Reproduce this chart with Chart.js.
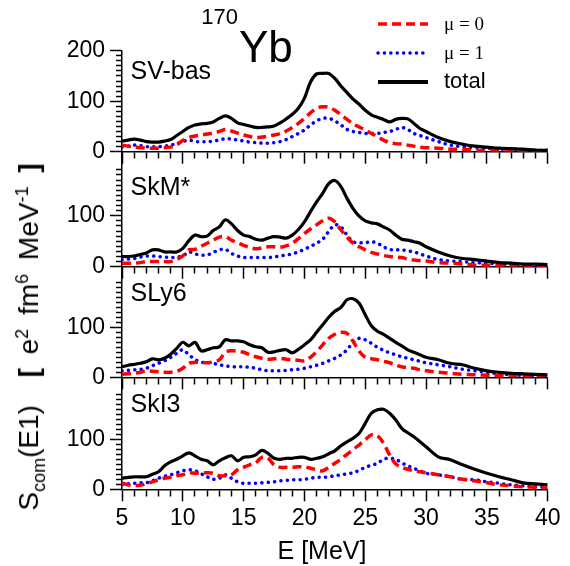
<!DOCTYPE html>
<html>
<head>
<meta charset="utf-8">
<script src="https://cdn.jsdelivr.net/npm/chart.js@4.4.0/dist/chart.umd.min.js"></script>
<style>
  body { margin: 0; background: #fff; }
  #wrap { position: relative; width: 570px; height: 566px; overflow: hidden; font-family: "Liberation Sans", Arial, sans-serif; }
  #wrap canvas { position: absolute; left: 0; top: 0; }
  .txt { position: absolute; white-space: nowrap; line-height: 1; color: #000; }
  .serif { font-family: "Liberation Serif", "Times New Roman", serif; }
  #ylab { position: absolute; left: 31px; top: 337px; transform: translate(-50%, -50%) rotate(-90deg); font-size: 28px; word-spacing: 6px; white-space: nowrap; }
  #ylab sub, #ylab sup { font-size: 18px; }
</style>
</head>
<body>
<div id="wrap">
  <canvas id="p0" width="570" height="566"></canvas>
  <canvas id="p1" width="570" height="566"></canvas>
  <canvas id="p2" width="570" height="566"></canvas>
  <canvas id="p3" width="570" height="566"></canvas>
  <div id="ylab">S<sub>com</sub>(E1)&nbsp; <b>[</b> e<sup>2</sup> fm<sup>6</sup> MeV<sup>-1</sup> <b>]</b></div>
</div>
<script>
// energy grid, MeV
const energy = [5,5.5,6,6.5,7,7.5,8,8.5,9,9.5, 10,10.5,11,11.5,12,12.5,13,13.5,14,14.5,
  15,15.5,16,16.5,17,17.5,18,18.5,19,19.5, 20,20.5,21,21.5,22,22.5,23,23.5,24,24.5,
  25,25.5,26,26.5,27,27.5,28,28.5,29,29.5, 30,31,32,33,34,35,36,37,38,39,40];

const panelNames = ["SV-bas", "SkM*", "SLy6", "SkI3"];
const seriesNames = ["\u03bc = 0", "\u03bc = 1", "total"];

// S_com(E1) in e^2 fm^6 / MeV
const totalSVbas = [21,23,25,23,20,19,19,21,24,32, 40,48,53,55,56,59,66,71,66,57, 54,51,48,48,49,51,57,65,74,86, 106,138,154,155,155,145,130,117,104,94, 82,73,68,64,59,64,66,65,56,46, 40,28,20,15,11,9,7,6,5,3,3];
const mu0SVbas = [13,11,9,8,7,7,7,8,9,14, 22,28,31,33,35,37,40,44,41,37, 33,30,28,29,31,33,36,41,48,56, 66,77,86,89,88,82,73,64,55,49, 43,36,30,23,18,16,15,13,11,9, 8,7,5,5,3,2,2,2,2,2,2];
const mu1SVbas = [9,11,13,12,10,10,10,11,13,16, 20,23,20,20,20,21,23,26,25,23, 21,19,18,17,17,18,20,24,30,36, 43,53,61,66,66,61,53,44,40,38, 36,36,36,38,40,44,48,44,36,32, 28,20,13,10,8,7,5,5,4,3,3];

const totalSkM = [20,20,21,24,27,33,33,29,29,29, 36,51,62,59,60,71,78,92,84,71, 62,59,54,52,56,59,58,56,62,73, 88,108,127,144,163,169,157,134,114,99, 90,86,84,78,72,62,54,52,49,46, 39,29,21,16,14,11,8,7,5,5,4];
const mu0SkM = [7,7,7,8,10,10,10,10,10,14, 21,33,34,40,46,52,58,59,52,47, 42,38,35,37,39,39,38,41,46,55, 65,74,82,90,95,88,72,58,46,39, 33,28,25,22,20,19,18,15,13,12, 11,8,7,5,3,3,2,2,2,2,2];
const mu1SkM = [14,15,16,19,21,21,20,19,18,19, 21,29,25,23,23,28,33,34,26,21, 18,18,18,18,18,19,21,23,25,29, 34,40,46,54,69,82,78,62,49,47, 47,49,46,39,34,33,33,31,29,25, 21,14,11,10,8,7,5,5,4,3,3];

const totalSLy6 = [21,24,26,28,31,37,35,38,46,58, 70,63,70,53,55,59,61,75,73,73, 71,65,61,59,50,51,54,55,49,56, 65,75,90,105,120,132,140,155,157,148, 125,103,92,86,78,70,63,55,50,45, 40,35,28,25,18,13,10,8,7,6,5];
const mu0SLy6 = [6,7,8,10,13,12,11,10,10,12, 18,28,30,30,29,31,35,50,53,52, 50,45,41,38,36,37,38,36,35,34, 33,40,51,65,78,86,90,88,72,52, 40,37,35,32,29,25,21,19,18,15, 13,10,8,6,5,4,3,3,3,3,3];
const mu1SLy6 = [13,14,15,16,18,23,28,33,40,48, 55,45,36,30,30,28,25,23,21,21, 21,20,18,15,13,13,13,14,15,16, 18,21,24,28,33,38,45,55,70,78, 75,68,60,54,49,45,41,38,35,32, 29,25,21,16,13,10,7,5,4,3,3];

const totalSkI3 = [22,24,25,25,25,30,35,47,55,60, 67,73,67,60,57,49,57,63,67,57, 64,65,69,78,72,62,60,62,62,64, 64,60,62,65,71,77,87,95,102,112, 132,152,159,160,152,139,122,113,105,95, 85,65,59,49,40,32,25,19,13,11,9];
const mu0SkI3 = [13,9,7,8,11,15,19,22,24,27, 29,33,32,33,33,32,27,27,29,39, 44,49,53,64,62,49,44,44,44,45, 45,42,39,37,44,52,60,70,79,89, 99,109,107,92,69,51,44,40,37,35, 33,29,25,20,17,13,9,7,5,4,2];
const mu1SkI3 = [9,11,12,13,13,17,22,26,29,33, 37,39,37,31,25,20,22,29,22,15, 12,12,12,13,14,15,17,18,19,19, 20,22,24,24,25,27,29,31,33,38, 44,48,52,60,62,60,53,47,42,37, 32,29,25,20,19,15,12,9,7,5,4];

const totals = [totalSVbas, totalSkM, totalSLy6, totalSkI3];
const mu0s = [mu0SVbas, mu0SkM, mu0SLy6, mu0SkI3];
const mu1s = [mu1SVbas, mu1SkM, mu1SLy6, mu1SkI3];

const xMajorTicks = [5, 10, 15, 20, 25, 30, 35, 40];
const yMajorTicks = [0, 100, 200];

// panel geometry (pixels) and y ranges
const W = 570, H = 566, plotLeft = 122, plotRight = 547.7, xAxisH = 40;
const panels = [
  { top: 50.7, bottom: 151.7, yMax: 200, tickTop: 200, labelY: 79 },
  { top: 151.7, bottom: 266.7, yMax: 225.5, tickTop: 190, labelY: 195 },
  { top: 266.7, bottom: 377.3, yMax: 221.2, tickTop: 190, labelY: 301 },
  { top: 377.3, bottom: 489.3, yMax: 224, tickTop: 190, labelY: 412 }
];

const FONT = "'Liberation Sans', Arial, sans-serif";
const wrap = document.getElementById("wrap");

function addText(html, left, baseline, size, cls, align) {
  const d = document.createElement("div");
  d.className = "txt " + (cls || "");
  d.innerHTML = html;
  d.style.fontSize = size + "px";
  d.style.left = left + "px";
  d.style.top = (baseline - 0.85 * size) + "px";
  if (align === "right") d.style.transform = "translateX(-100%)";
  if (align === "center") d.style.transform = "translateX(-50%)";
  wrap.appendChild(d);
}

function pts(arr) {
  return arr.map((v, i) => ({ x: energy[i], y: v }));
}

function line(arr, color, width, dash, order, label) {
  return {
    label: label,
    data: pts(arr),
    borderColor: color,
    borderWidth: width,
    borderDash: dash,
    borderCapStyle: dash.length && dash[0] < 1 ? "round" : "butt",
    pointRadius: 0,
    tension: 0.35,
    fill: false,
    order: order
  };
}

// legend swatches on the top panel
const legendPlugin = {
  id: "legendLines",
  afterDraw(chart) {
    if (chart.canvas.id !== "p0") return;
    const ctx = chart.ctx;
    const rows = [
      { y: 24, color: "#ff0000", w: 3.5, dash: [9, 5], cap: "butt" },
      { y: 53, color: "#0000ff", w: 3.5, dash: [0.1, 6.3], cap: "round" },
      { y: 82, color: "#000000", w: 4, dash: [], cap: "butt" }
    ];
    ctx.save();
    rows.forEach(r => {
      ctx.beginPath();
      ctx.strokeStyle = r.color;
      ctx.lineWidth = r.w;
      ctx.lineCap = r.cap;
      ctx.setLineDash(r.dash);
      ctx.moveTo(378, r.y);
      ctx.lineTo(428, r.y);
      ctx.stroke();
    });
    ctx.restore();
  }
};

panels.forEach((p, i) => {
  const isBottom = i === panels.length - 1;
  const yTickVals = [];
  for (let v = 0; v <= p.tickTop; v += 10) yTickVals.push(v);
  const xTickVals = [];
  for (let v = 5; v <= 40; v++) xTickVals.push(v);

  new Chart(document.getElementById("p" + i), {
    type: "line",
    data: {
      datasets: [
        line(totals[i], "#000000", 3.2, [], 0, seriesNames[2]),
        line(mu0s[i], "#ff0000", 3.5, [9, 5], 1, seriesNames[0]),
        line(mu1s[i], "#0000ff", 3.5, [0.1, 6.3], 2, seriesNames[1])
      ]
    },
    options: {
      responsive: false,
      animation: false,
      devicePixelRatio: 1,
      layout: { padding: { top: p.top, bottom: H - p.bottom - xAxisH, left: 0, right: W - plotRight } },
      plugins: { legend: { display: false }, tooltip: { enabled: false } },
      scales: {
        x: {
          type: "linear",
          min: 5,
          max: 40,
          afterFit: s => { s.height = xAxisH; },
          afterBuildTicks: s => { s.ticks = xTickVals.map(v => ({ value: v })); },
          ticks: {
            autoSkip: false,
            maxRotation: 0,
            padding: 4,
            color: "#000",
            font: { size: 23, family: FONT },
            callback: v => (isBottom && xMajorTicks.includes(v)) ? String(v) : ""
          },
          grid: {
            drawOnChartArea: false,
            tickLength: 12,
            tickWidth: 1.5,
            tickColor: "#000",
            tickBorderDash: c => (c.tick && xMajorTicks.includes(c.tick.value)) ? [] : [6, 100]
          },
          border: { display: true, color: "#000", width: 1.5 }
        },
        y: {
          min: 0,
          max: p.yMax,
          afterFit: s => { s.width = plotLeft; },
          afterBuildTicks: s => { s.ticks = yTickVals.map(v => ({ value: v })); },
          ticks: {
            autoSkip: false,
            padding: 5,
            color: "#000",
            font: { size: 23, family: FONT },
            callback: v => yMajorTicks.includes(v) ? String(v) : ""
          },
          grid: {
            drawOnChartArea: false,
            tickLength: 12,
            tickWidth: 1.5,
            tickColor: "#000",
            tickBorderDash: c => (c.tick && yMajorTicks.includes(c.tick.value)) ? [] : [0, 6, 100]
          },
          border: { display: true, color: "#000", width: 1.5 }
        }
      }
    },
    plugins: [legendPlugin]
  });

  addText(panelNames[i], 130.5, p.labelY, 25);
});

// title and legend text
addText("170", 238, 25, 22, "", "right");
addText("Yb", 239, 62, 44);
addText(seriesNames[0], 444, 30, 19, "serif");
addText(seriesNames[1], 444, 59, 19, "serif");
addText(seriesNames[2], 444, 89, 22);
addText("E [MeV]", 322, 559, 25, "", "center");
</script>
</body>
</html>
